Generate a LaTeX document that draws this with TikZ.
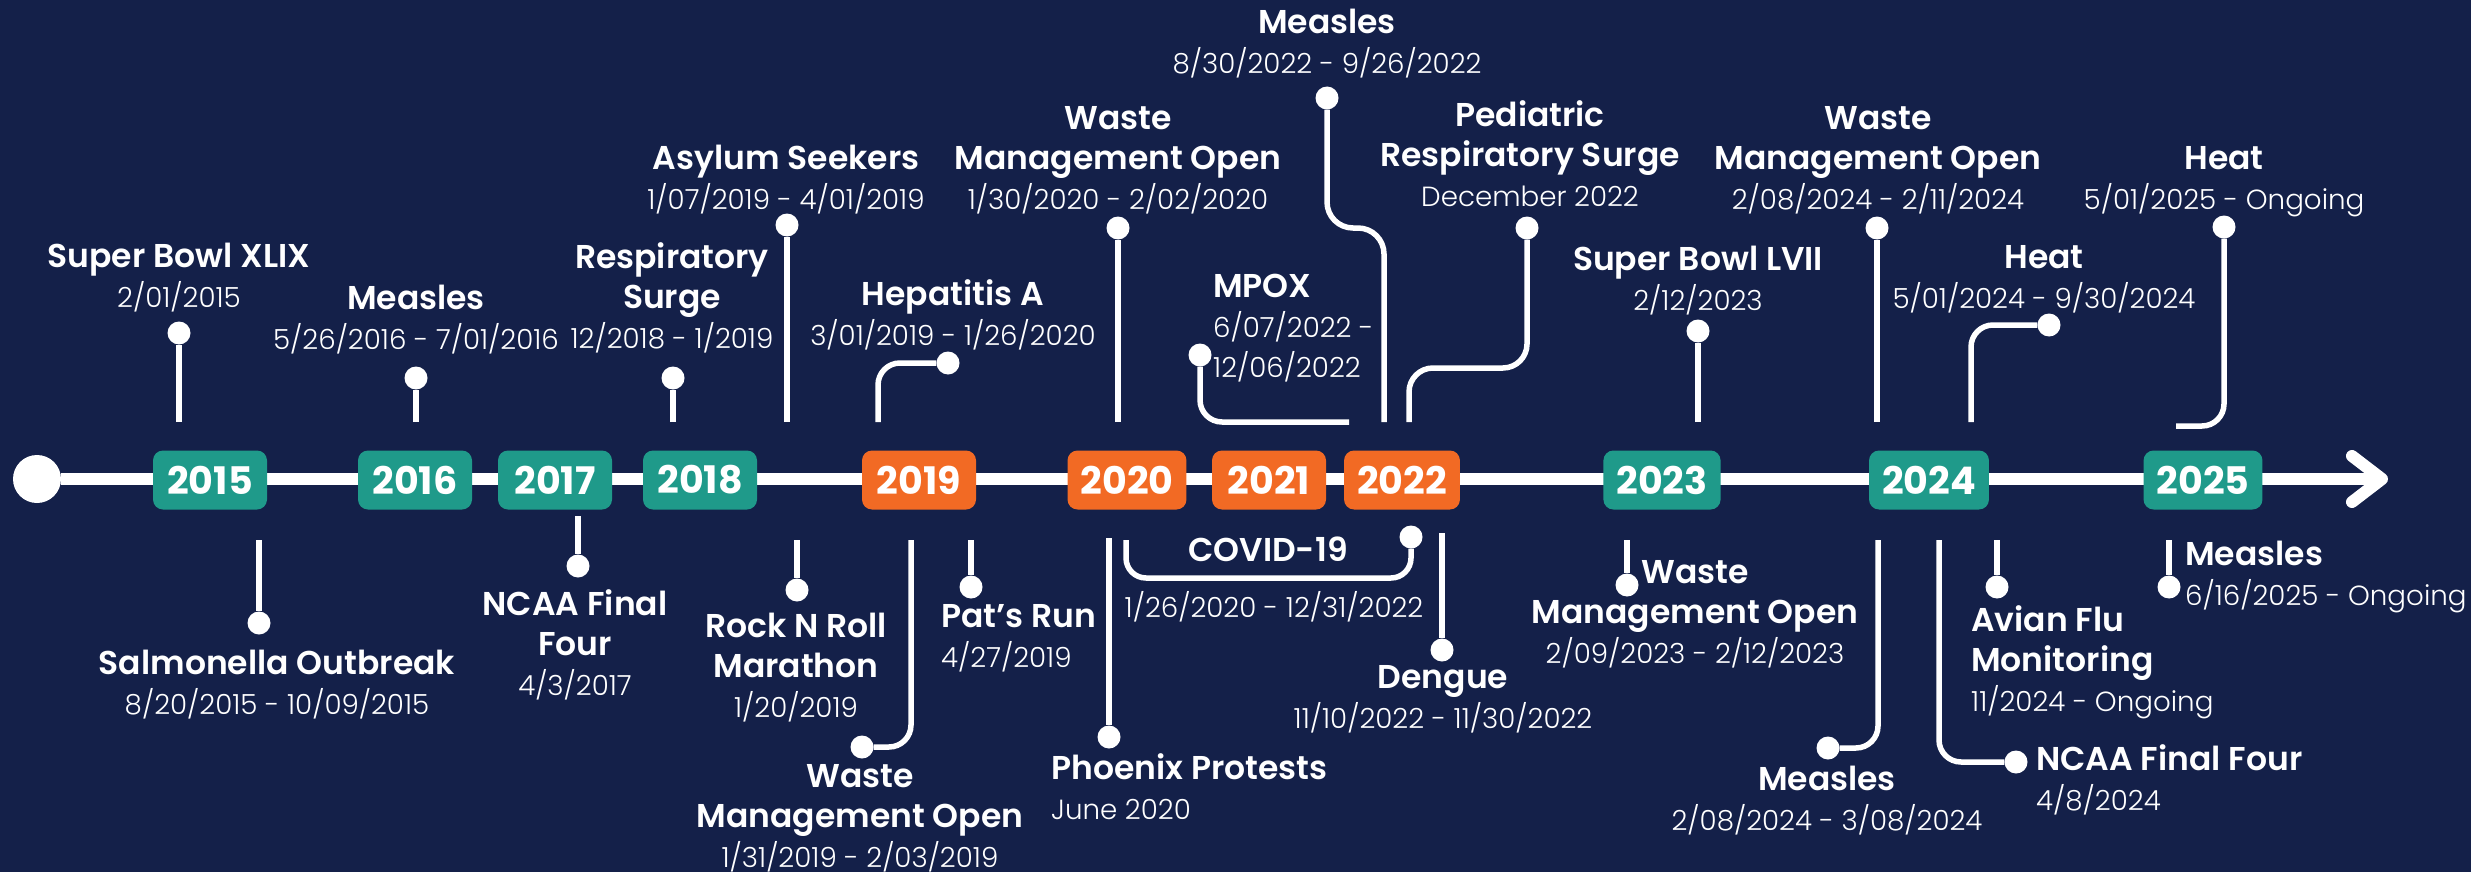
\documentclass[tikz,border=0pt]{standalone}
\usepackage{fontspec}
\setmainfont{Poppins}[BoldFont={Poppins SemiBold}]
\newfontfamily\datefont{Poppins Light}[Scale=0.84]
\newfontfamily\yearfont{Poppins Bold}
\usetikzlibrary{positioning}
\definecolor{navybg}{HTML}{142049}
\definecolor{yrteal}{HTML}{1F9A8A}
\definecolor{yrorange}{HTML}{F26A24}

\begin{document}
\begin{tikzpicture}[x=1pt, y=-1pt,
    year/.style={rounded corners=10pt, minimum width=114pt, minimum height=59pt,
      inner xsep=13pt, inner ysep=0pt, text=white, font=\fontsize{38}{40}\selectfont\yearfont},
    evt/.style={text=white, align=center, inner sep=0pt, font=\fontsize{33}{40}\selectfont},
    dot/.style={circle, fill=white, inner sep=0pt, minimum size=23pt},
    stem/.style={draw=white, line width=5.5pt}]
    \path[use as bounding box, fill=navybg] (0,0) rectangle (2471,872);

    % the time line
    \node (start) [circle, fill=white, minimum size=48pt, inner sep=0pt] at (37,479) {};
    \coordinate (tip) at (2382,479);
    \draw[white, line width=12pt] (start) -- ([xshift=-4pt]tip);
    \draw[white, line width=12pt, line cap=round, line join=round]
        ([shift={(-30,-23)}]tip) -- (tip) -- ([shift={(-30,23)}]tip);

    \node (y2015)[year, fill=yrteal] at (210,480) {2015};
    \node (y2016)[year, fill=yrteal] at (415,480) {2016};
    \node (y2017)[year, fill=yrteal] at (555,480) {2017};
    \node (y2018)[year, fill=yrteal] at (700,480) {2018};
    \node (y2019)[year, fill=yrorange] at (919,480) {2019};
    \node (y2020)[year, fill=yrorange] at (1127,480) {2020};
    \node (y2021)[year, fill=yrorange] at (1269,480) {2021};
    \node (y2022)[year, fill=yrorange] at (1402,480) {2022};
    \node (y2023)[year, fill=yrteal] at (1662,480) {2023};
    \node (y2024)[year, fill=yrteal] at (1929,480) {2024};
    \node (y2025)[year, fill=yrteal] at (2203,480) {2025};

    % above the line
    \node (superbowl15_pt)[dot] at (179,333) {};
    \coordinate (superbowl15_base) at (179,422);
    \path(superbowl15_base) edge[stem] (superbowl15_pt);
    \node (superbowl15)[evt, anchor=base] at (179,307) {\textbf{Super Bowl XLIX}\\\datefont 2/01/2015};

    \node (measles16_pt)[dot] at (416,378) {};
    \coordinate (measles16_base) at (416,422);
    \path(measles16_base) edge[stem] (measles16_pt);
    \node (measles16)[evt, anchor=base] at (416,349) {\textbf{Measles}\\\datefont 5/26/2016 - 7/01/2016};

    \node (resp18_pt)[dot] at (673,378) {};
    \coordinate (resp18_base) at (673,422);
    \path(resp18_base) edge[stem] (resp18_pt);
    \node (resp18)[evt, anchor=base] at (672,348) {\textbf{Respiratory}\\\textbf{Surge}\\\datefont 12/2018 - 1/2019};

    \node (asylum19_pt)[dot] at (787,225) {};
    \coordinate (asylum19_base) at (787,422);
    \path(asylum19_base) edge[stem] (asylum19_pt);
    \node (asylum19)[evt, anchor=base] at (786,209) {\textbf{Asylum Seekers}\\\datefont 1/07/2019 - 4/01/2019};

    \node (hepa19_pt)[dot] at (948,363) {};
    \coordinate (hepa19_base) at (878,422);
    \draw[stem, rounded corners=22pt] (hepa19_base) |- (hepa19_pt);
    \node (hepa19)[evt, anchor=base] at (953,345) {\textbf{Hepatitis A}\\\datefont 3/01/2019 - 1/26/2020};

    \node (wmo20_pt)[dot] at (1118,228) {};
    \coordinate (wmo20_base) at (1118,422);
    \path(wmo20_base) edge[stem] (wmo20_pt);
    \node (wmo20)[evt, anchor=base] at (1118,209) {\textbf{Waste}\\\textbf{Management Open}\\\datefont 1/30/2020 - 2/02/2020};

    \node (mpox22_pt)[dot] at (1200,355) {};
    \coordinate (mpox22_base) at (1349,422);
    \draw[stem, rounded corners=22pt] (mpox22_base) -| (mpox22_pt);
    \node (mpox22)[evt, align=left, anchor=base west] at (1213,377) {\textbf{MPOX}\\\datefont 6/07/2022 -\\\datefont 12/06/2022};

    \node (measles22_pt)[dot] at (1327,98) {};
    \coordinate (measles22_base) at (1384,422);
    \draw[stem, rounded corners=26pt] (measles22_pt) -- ++(0,130) -| (measles22_base);
    \node (measles22)[evt, anchor=base] at (1327,74) {\textbf{Measles}\\\datefont 8/30/2022 - 9/26/2022};

    \node (pediatric22_pt)[dot] at (1527,228) {};
    \coordinate (pediatric22_base) at (1409,422);
    \draw[stem, rounded corners=24pt] (pediatric22_pt) -- ++(0,140) -| (pediatric22_base);
    \node (pediatric22)[evt, anchor=base] at (1530,206) {\textbf{Pediatric}\\\textbf{Respiratory Surge}\\\datefont December 2022};

    \node (superbowl23_pt)[dot] at (1698,331) {};
    \coordinate (superbowl23_base) at (1698,422);
    \path(superbowl23_base) edge[stem] (superbowl23_pt);
    \node (superbowl23)[evt, anchor=base] at (1698,310) {\textbf{Super Bowl LVII}\\\datefont 2/12/2023};

    \node (wmo24_pt)[dot] at (1877,228) {};
    \coordinate (wmo24_base) at (1877,422);
    \path(wmo24_base) edge[stem] (wmo24_pt);
    \node (wmo24)[evt, anchor=base] at (1878,209) {\textbf{Waste}\\\textbf{Management Open}\\\datefont 2/08/2024 - 2/11/2024};

    \node (heat24_pt)[dot] at (2049,325) {};
    \coordinate (heat24_base) at (1971,422);
    \draw[stem, rounded corners=22pt] (heat24_base) |- (heat24_pt);
    \node (heat24)[evt, anchor=base] at (2044,308) {\textbf{Heat}\\\datefont 5/01/2024 - 9/30/2024};

    \node (heat25_pt)[dot] at (2224,227) {};
    \coordinate (heat25_base) at (2176,426);
    \draw[stem, rounded corners=22pt] (heat25_base) -| (heat25_pt);
    \node (heat25)[evt, anchor=base] at (2224,209) {\textbf{Heat}\\\datefont 5/01/2025 - Ongoing};

    % below the line
    \node (salmonella15_pt)[dot] at (259,623) {};
    \coordinate (salmonella15_base) at (259,540);
    \path(salmonella15_base) edge[stem] (salmonella15_pt);
    \node (salmonella15)[evt, anchor=base] at (277,714) {\textbf{Salmonella Outbreak}\\\datefont 8/20/2015 - 10/09/2015};

    \node (ncaa17_pt)[dot] at (578,566) {};
    \coordinate (ncaa17_base) at (578,516);
    \path(ncaa17_base) edge[stem] (ncaa17_pt);
    \node (ncaa17)[evt, anchor=base] at (575,695) {\textbf{NCAA Final}\\\textbf{Four}\\\datefont 4/3/2017};

    \node (rocknroll19_pt)[dot] at (797,590) {};
    \coordinate (rocknroll19_base) at (797,540);
    \path(rocknroll19_base) edge[stem] (rocknroll19_pt);
    \node (rocknroll19)[evt, anchor=base] at (796,717) {\textbf{Rock N Roll}\\\textbf{Marathon}\\\datefont 1/20/2019};

    \node (wmo19_pt)[dot] at (862,747) {};
    \coordinate (wmo19_base) at (911,540);
    \draw[stem, rounded corners=22pt] (wmo19_base) |- (wmo19_pt);
    \node (wmo19)[evt, anchor=base] at (860,867) {\textbf{Waste}\\\textbf{Management Open}\\\datefont 1/31/2019 - 2/03/2019};

    \node (patsrun19_pt)[dot] at (971,587) {};
    \coordinate (patsrun19_base) at (971,540);
    \path(patsrun19_base) edge[stem] (patsrun19_pt);
    \node (patsrun19)[evt, align=left, anchor=base west] at (941,667) {\textbf{Pat’s Run}\\\datefont 4/27/2019};

    \node (phoenix20_pt)[dot] at (1109,737) {};
    \coordinate (phoenix20_base) at (1109,538);
    \path(phoenix20_base) edge[stem] (phoenix20_pt);
    \node (phoenix20)[evt, align=left, anchor=base west] at (1051,819) {\textbf{Phoenix Protests}\\\datefont June 2020};

    \node (covid_pt)[dot] at (1411,537) {};
    \coordinate (covid_base) at (1126,540);
    \draw[stem, rounded corners=20pt] (covid_base) -- ++(0,38) -| (covid_pt);
    \node (covid)[evt, anchor=base] at (1268,561) {\textbf{COVID-19}};
    \node (covid_date)[evt, anchor=base] at (1274,617) {\datefont 1/26/2020 - 12/31/2022};

    \node (dengue22_pt)[dot] at (1442,650) {};
    \coordinate (dengue22_base) at (1442,533);
    \path(dengue22_base) edge[stem] (dengue22_pt);
    \node (dengue22)[evt, anchor=base] at (1443,728) {\textbf{Dengue}\\\datefont 11/10/2022 - 11/30/2022};

    \node (wmo23_pt)[dot] at (1627,585) {};
    \coordinate (wmo23_base) at (1627,540);
    \path(wmo23_base) edge[stem] (wmo23_pt);
    \node (wmo23)[evt, anchor=base] at (1695,663) {\textbf{Waste}\\\textbf{Management Open}\\\datefont 2/09/2023 - 2/12/2023};

    \node (measles24_pt)[dot] at (1828,748) {};
    \coordinate (measles24_base) at (1878,540);
    \draw[stem, rounded corners=22pt] (measles24_base) |- (measles24_pt);
    \node (measles24)[evt, anchor=base] at (1827,830) {\textbf{Measles}\\\datefont 2/08/2024 - 3/08/2024};

    \node (ncaa24_pt)[dot] at (2016,762) {};
    \coordinate (ncaa24_base) at (1939,540);
    \draw[stem, rounded corners=22pt] (ncaa24_base) |- (ncaa24_pt);
    \node (ncaa24)[evt, align=left, anchor=base west] at (2036,810) {\textbf{NCAA Final Four}\\\datefont 4/8/2024};

    \node (avian24_pt)[dot] at (1997,587) {};
    \coordinate (avian24_base) at (1997,540);
    \path(avian24_base) edge[stem] (avian24_pt);
    \node (avian24)[evt, align=left, anchor=base west] at (1971,711) {\textbf{Avian Flu}\\\textbf{Monitoring}\\\datefont 11/2024 - Ongoing};

    \node (measles25_pt)[dot] at (2169,587) {};
    \coordinate (measles25_base) at (2169,540);
    \path(measles25_base) edge[stem] (measles25_pt);
    \node (measles25)[evt, align=left, anchor=base west] at (2185,605) {\textbf{Measles}\\\datefont 6/16/2025 - Ongoing};
\end{tikzpicture}
\end{document}
